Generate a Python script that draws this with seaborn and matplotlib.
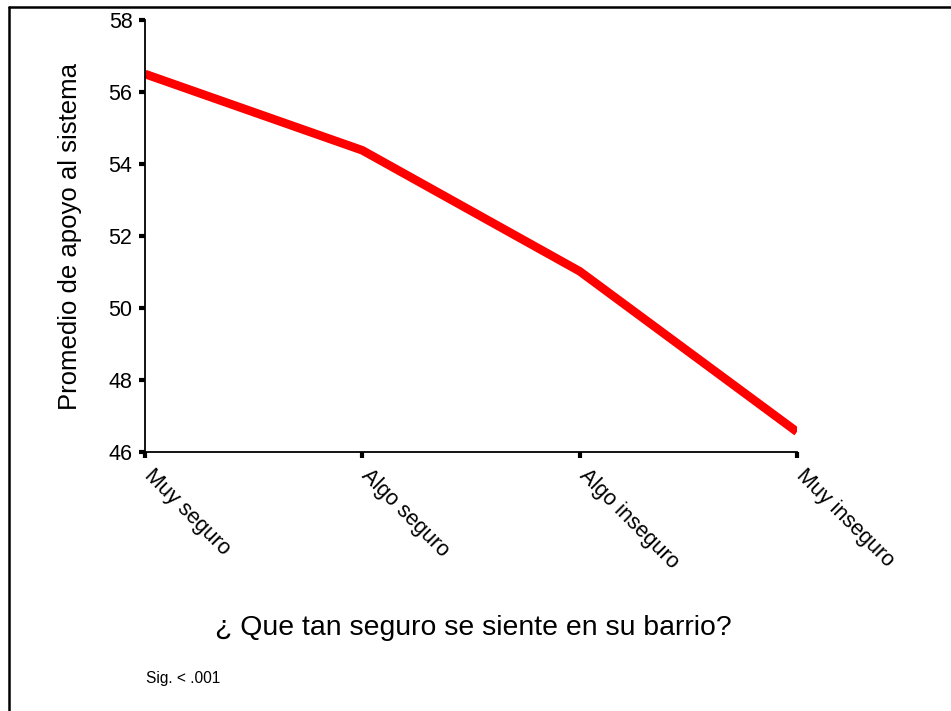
import matplotlib
matplotlib.use("Agg")
import matplotlib.pyplot as plt
import matplotlib.transforms as mtransforms
import seaborn as sns
import pandas as pd
from matplotlib.lines import Line2D

categories = ["Muy seguro", "Algo seguro", "Algo inseguro", "Muy inseguro"]
values = [56.5, 54.38, 51.02, 46.56]
yticks = [46, 48, 50, 52, 54, 56, 58]

sns.set_theme(style="white")
plt.rcParams['font.family'] = ['Liberation Sans', 'DejaVu Sans']
plt.rcParams['text.color'] = 'black'
plt.rcParams['axes.labelcolor'] = 'black'
plt.rcParams['xtick.color'] = 'black'
plt.rcParams['ytick.color'] = 'black'

df = pd.DataFrame({"cat": categories, "val": values})

fig = plt.figure(figsize=(9.51, 7.11), dpi=100)
ax = fig.add_axes([145/951, 1-452/711, (797-145)/951, (452-20)/711])
sns.lineplot(data=df, x="cat", y="val", ax=ax, color="#ff0000", linewidth=6.2,
             solid_capstyle="butt", sort=False)

ax.set_xlim(0, 3)
ax.set_ylim(46, 58)
ax.set_yticks(yticks)
ax.set_yticklabels([str(t) for t in yticks], fontsize=15.5)
ax.set_xticks(range(len(categories)))
ax.set_xticklabels(categories, fontsize=15.5, rotation=-45, ha="left", va="top",
                   rotation_mode="anchor")
ax.tick_params(axis="both", direction="out", length=4, width=3, color="black",
               bottom=True, left=True, labelcolor="black")
ax.tick_params(axis="y", pad=5)
ax.tick_params(axis="x", pad=7)
offset = mtransforms.ScaledTranslation(10/100, 2/100, fig.dpi_scale_trans)
for tick in ax.xaxis.get_major_ticks():
    tick.label1.set_transform(tick.label1.get_transform() + offset)
for s in ["top", "right"]:
    ax.spines[s].set_visible(False)
for s in ["left", "bottom"]:
    ax.spines[s].set_color("black")
    ax.spines[s].set_linewidth(1.3)
ax.set_xlabel("")
ax.set_ylabel("Promedio de apoyo al sistema", fontsize=18.5, labelpad=19, color="black")

fig.text(473/951, 1-628/711, "\u00bf Que tan seguro se siente en su barrio?", fontsize=20.4,
         ha="center", va="center", color="black")
fig.text(146/951, 1-678/711, "Sig. < .001", fontsize=11.2, ha="left", va="center", color="black")

fig.add_artist(Line2D([9/951, 9/951], [0, 1-7/711], transform=fig.transFigure, color="black", linewidth=1.8))
fig.add_artist(Line2D([9/951, 1], [1-7/711, 1-7/711], transform=fig.transFigure, color="black", linewidth=1.8))

fig.savefig("out.png", dpi=100)
